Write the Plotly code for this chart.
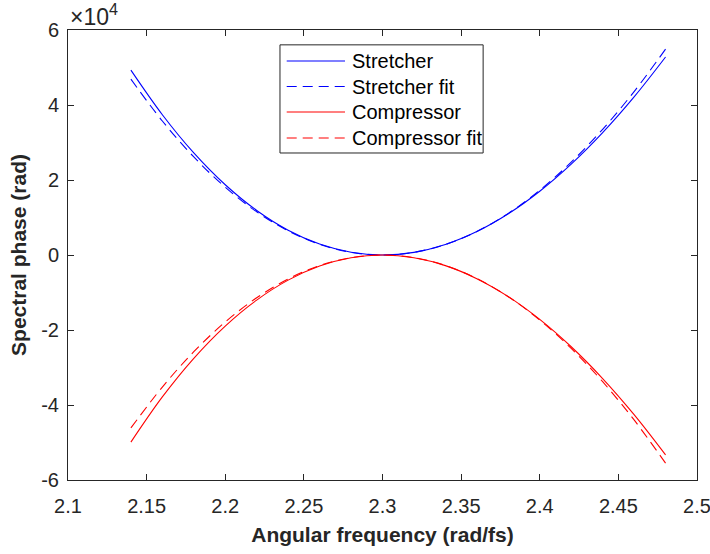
import numpy as np
import plotly.graph_objects as go

# Angular frequency (rad/fs)
freq = [2.14, 2.16, 2.18, 2.20, 2.22, 2.24, 2.26, 2.28, 2.30,
        2.32, 2.34, 2.36, 2.38, 2.40, 2.42, 2.44, 2.46, 2.48]

# Spectral phase, in units of 1e4 rad
stretcher = [4.929, 3.740, 2.722, 1.873, 1.188, 0.662, 0.291, 0.072, 0.0,
             0.071, 0.280, 0.624, 1.098, 1.699, 2.421, 3.262, 4.215, 5.279]
stretcher_fit = [4.689, 3.574, 2.614, 1.808, 1.152, 0.645, 0.285, 0.071, 0.0,
                 0.070, 0.280, 0.627, 1.110, 1.727, 2.475, 3.352, 4.358, 5.489]
compressor = [-4.990, -3.785, -2.755, -1.895, -1.202, -0.670, -0.295, -0.073, 0.0,
              -0.072, -0.283, -0.631, -1.110, -1.717, -2.446, -3.294, -4.257, -5.330]
compressor_fit = [-4.612, -3.521, -2.579, -1.786, -1.140, -0.639, -0.283, -0.071, 0.0,
                  -0.070, -0.280, -0.628, -1.113, -1.734, -2.490, -3.379, -4.399, -5.551]

series_names = ["Stretcher", "Stretcher fit", "Compressor", "Compressor fit"]
yticks = [-6, -4, -2, 0, 2, 4, 6]
xticks = [2.1, 2.15, 2.2, 2.25, 2.3, 2.35, 2.4, 2.45, 2.5]
scale = 1e4

FONT = "Liberation Sans, Arial, Helvetica, sans-serif"
AX = "#262626"
DASH = "10px,6px"

fig = go.Figure()
series = [
    (series_names[0], stretcher, "#0000FF", "solid"),
    (series_names[1], stretcher_fit, "#0000FF", DASH),
    (series_names[2], compressor, "#FF0000", "solid"),
    (series_names[3], compressor_fit, "#FF0000", DASH),
]
for name, vals, col, dash in series:
    fig.add_trace(go.Scatter(
        x=freq, y=np.array(vals) * scale, name=name, mode="lines",
        line=dict(color=col, width=1.1, dash=dash, shape="spline", smoothing=1.0),
        showlegend=False,
    ))

# legend drawn in paper coordinates (MATLAB-style box with long line samples)
leg_x0, leg_x1, leg_y0, leg_y1 = 0.337, 0.660, 0.7267, 0.967
row_y = [0.9311, 0.8744, 0.8178, 0.760]
shapes = [dict(type="rect", xref="paper", yref="paper",
               x0=leg_x0, x1=leg_x1, y0=leg_y0, y1=leg_y1,
               line=dict(color=AX, width=1), fillcolor="white", layer="above")]
annotations = []
for (name, vals, col, dash), ry in zip(series, row_y):
    shapes.append(dict(type="line", xref="paper", yref="paper",
                       x0=0.3477, x1=0.4404, y0=ry, y1=ry,
                       line=dict(color=col, width=1.1, dash=dash), layer="above"))
    annotations.append(dict(xref="paper", yref="paper", x=0.4483, y=ry,
                            xanchor="left", yanchor="middle", showarrow=False,
                            text=name, font=dict(family=FONT, size=20, color="black")))

annotations.append(dict(xref="paper", yref="paper", x=0, y=1, xanchor="left",
                        yanchor="bottom", showarrow=False, yshift=-2,
                        text="×10<sup>4</sup>",
                        font=dict(family=FONT, size=23, color=AX)))

axis_common = dict(
    showline=True, linecolor=AX, linewidth=1, mirror="ticks",
    ticks="inside", ticklen=6, tickcolor=AX, tickwidth=1,
    showgrid=False, zeroline=False, ticklabeloverflow="allow",
    automargin=False,
    tickfont=dict(family=FONT, size=20, color=AX),
)

fig.update_layout(
    width=710, height=554,
    margin=dict(l=68, r=13, t=30, b=74, autoexpand=False),
    paper_bgcolor="white", plot_bgcolor="white",
    font=dict(family=FONT, color=AX),
    xaxis=dict(range=[2.1, 2.5], tickvals=xticks,
               ticktext=[f"{v:g}" for v in xticks], ticklabelstandoff=8,
               title=dict(text="<b>Angular frequency (rad/fs)</b>",
                          font=dict(family=FONT, size=21, color=AX), standoff=11),
               **axis_common),
    yaxis=dict(range=[-6 * scale, 6 * scale], tickvals=[v * scale for v in yticks],
               ticktext=[str(v) for v in yticks], ticklabelstandoff=4,
               title=dict(text="<b>Spectral phase (rad)</b>",
                          font=dict(family=FONT, size=21, color=AX), standoff=8),
               **axis_common),
    showlegend=False,
    shapes=shapes,
    annotations=annotations,
)

fig.write_html("out.html", config={"displayModeBar": False},
               post_script="document.body.style.margin='0';")
